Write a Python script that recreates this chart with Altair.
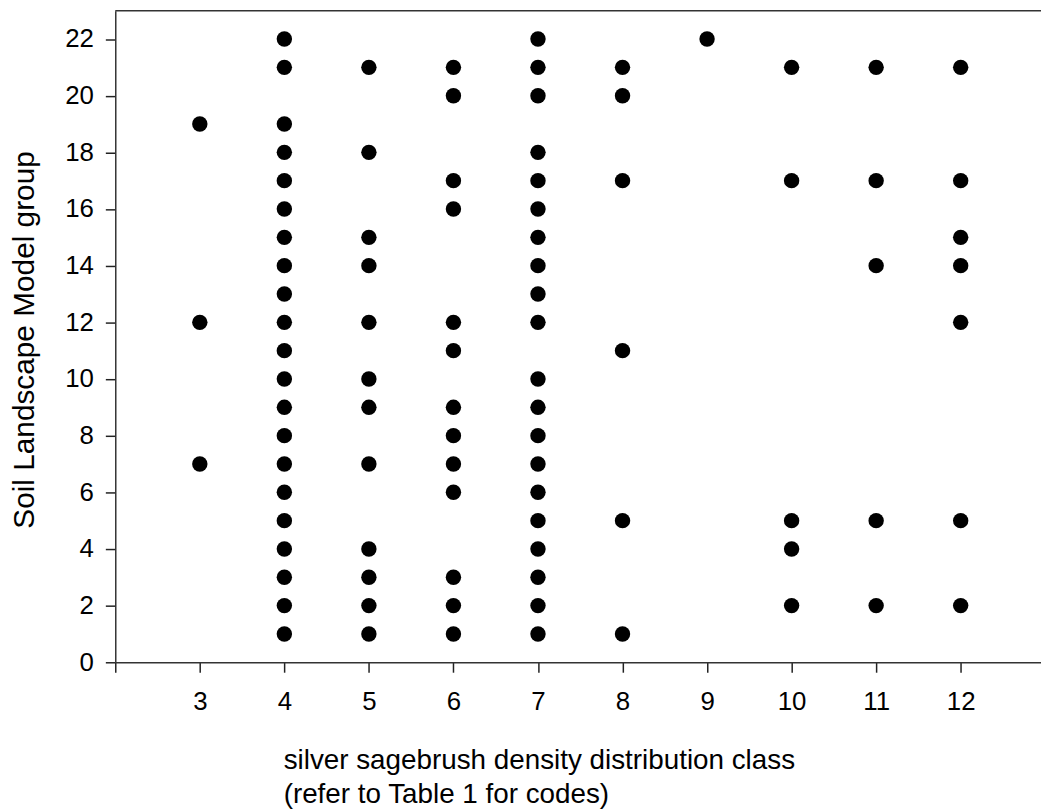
import altair as alt
import pandas as pd

# silver sagebrush density distribution class -> Soil Landscape Model groups observed
class_3 = [19, 12, 7]
class_4 = [22, 21, 19, 18, 17, 16, 15, 14, 13, 12, 11, 10, 9, 8, 7, 6, 5, 4, 3, 2, 1]
class_5 = [21, 18, 15, 14, 12, 10, 9, 7, 4, 3, 2, 1]
class_6 = [21, 20, 17, 16, 12, 11, 9, 8, 7, 6, 3, 2, 1]
class_7 = [22, 21, 20, 18, 17, 16, 15, 14, 13, 12, 10, 9, 8, 7, 6, 5, 4, 3, 2, 1]
class_8 = [21, 20, 17, 11, 5, 1]
class_9 = [22]
class_10 = [21, 17, 5, 4, 2]
class_11 = [21, 17, 14, 5, 2]
class_12 = [21, 17, 15, 14, 12, 5, 2]

x_ticks = [2, 3, 4, 5, 6, 7, 8, 9, 10, 11, 12]
y_ticks = [0, 2, 4, 6, 8, 10, 12, 14, 16, 18, 20, 22]

columns = {3: class_3, 4: class_4, 5: class_5, 6: class_6, 7: class_7,
           8: class_8, 9: class_9, 10: class_10, 11: class_11, 12: class_12}
rows = [{"cls": c, "grp": g} for c, gs in columns.items() for g in gs]
df = pd.DataFrame(rows)

FONT = "Liberation Sans"

points = alt.Chart(df).mark_circle(size=240, color="black", opacity=1).encode(
    x=alt.X(
        "cls:Q",
        scale=alt.Scale(domain=[2, 12.95], nice=False, zero=False),
        axis=alt.Axis(
            values=x_ticks,
            labelExpr="datum.value == 2 ? '' : datum.label",
            labelFont=FONT,
            labelFontSize=26,
            labelColor="black",
            labelPadding=17,
            title=["silver sagebrush density distribution class",
                   "(refer to Table 1 for codes)"],
            titleFont=FONT,
            titleFontSize=28,
            titleFontWeight="normal",
            titleColor="black",
            titleX=169,
            titleY=107,
            titleAlign="left",
            titleBaseline="alphabetic",
            titleLineHeight=34,
            grid=False,
        ),
    ),
    y=alt.Y(
        "grp:Q",
        scale=alt.Scale(domain=[0, 23], nice=False),
        axis=alt.Axis(
            values=y_ticks,
            labelFont=FONT,
            labelFontSize=26,
            labelColor="black",
            labelPadding=12,
            title="Soil Landscape Model group",
            titleFont=FONT,
            titleFontSize=30,
            titleFontWeight="normal",
            titleColor="black",
            titleAngle=270,
            titleX=-82,
            titleY=331,
            titleAlign="center",
            titleBaseline="alphabetic",
            grid=False,
        ),
    ),
)

top_line = alt.Chart(pd.DataFrame({"v": [0]})).mark_rule(
    color="#333333", strokeWidth=1.5
).encode(y=alt.datum(23))

chart = (
    alt.layer(points, top_line)
    .properties(
        width=932,
        height=656,
        autosize=alt.AutoSizeParams(type="none"),
        padding={"left": 108, "top": 0, "right": 0, "bottom": 146},
    )
    .configure_view(stroke=None)
    .configure_axis(
        domainColor="#333333",
        domainWidth=1.5,
        tickColor="#222222",
        tickWidth=1.5,
        tickSize=10,
    )
)

chart.save("out.html", embed_options={"renderer": "svg", "actions": False})
